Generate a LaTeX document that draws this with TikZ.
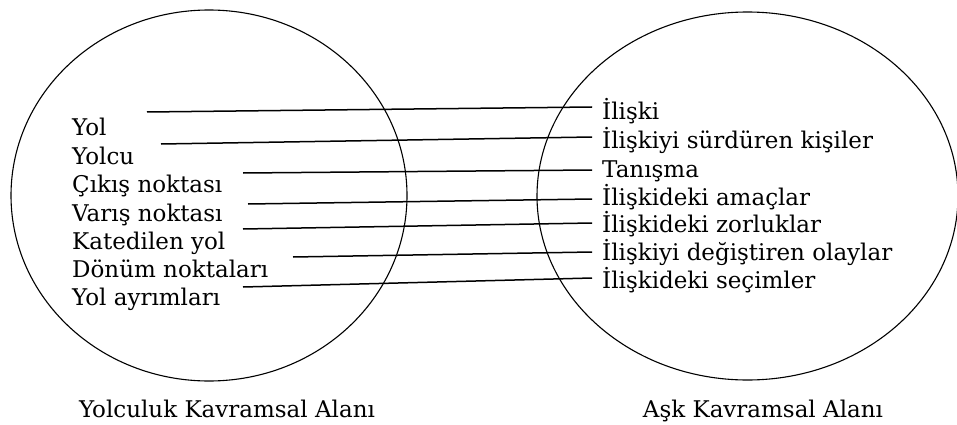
\documentclass[tikz,border=0pt]{standalone}
\usepackage{fontspec}
\setmainfont{DejaVu Serif}
\begin{document}
\begin{tikzpicture}[x=1pt,y=-1pt,
  term/.style={anchor=base west,inner sep=0pt,font=\fontsize{23}{26}\selectfont},
  target/.style={term,inner xsep=10pt},
  caption/.style={anchor=base,inner sep=0pt,font=\fontsize{23}{26}\selectfont},
  field/.style={draw,line width=1.1pt},
  link/.style={line width=1.5pt}]
\useasboundingbox (0,0) rectangle (957,425);
% the two conceptual fields
\draw[field] (209,195.5) ellipse [x radius=198, y radius=185.5];
\draw[field] (747.5,196) ellipse [x radius=210.5, y radius=184];
% source field terms
\node[term] (s1) at (72,135) {Yol};
\node[term] (s2) at (72,164) {Yolcu};
\node[term] (s3) at (72,192) {Çıkış noktası};
\node[term] (s4) at (72,221) {Varış noktası};
\node[term] (s5) at (72,249) {Katedilen yol};
\node[term] (s6) at (72,277) {Dönüm noktaları};
\node[term] (s7) at (72,305) {Yol ayrımları};
% target field terms
\node[target] (t1) at (592,120) {İlişki};
\node[target] (t2) at (592,148) {İlişkiyi sürdüren kişiler};
\node[target] (t3) at (592,177) {Tanışma};
\node[target] (t4) at (592,205) {İlişkideki amaçlar};
\node[target] (t5) at (592,232) {İlişkideki zorluklar};
\node[target] (t6) at (592,260) {İlişkiyi değiştiren olaylar};
\node[target] (t7) at (592,288) {İlişkideki seçimler};
% captions
\node[caption] (c1) at (227,417) {Yolculuk Kavramsal Alanı};
\node[caption] (c2) at (763,417) {Aşk Kavramsal Alanı};
% free starting points of the mapping lines
\coordinate (m1) at (147,112);
\coordinate (m2) at (161,144);
\coordinate (m3) at (243,173);
\coordinate (m4) at (248,204);
\coordinate (m5) at (243,229);
\coordinate (m6) at (293,257);
\coordinate (m7) at (243,287);
% mappings
\draw[link] (m1) -- (t1.west |- 0,107);
\draw[link] (m2) -- (t2.west |- 0,137);
\draw[link] (m3) -- (t3.west |- 0,170);
\draw[link] (m4) -- (t4.west |- 0,199);
\draw[link] (m5) -- (t5.west |- 0,223);
\draw[link] (m6) -- (t6.west |- 0,252);
\draw[link] (m7) -- (t7.west |- 0,278);
\end{tikzpicture}
\end{document}
